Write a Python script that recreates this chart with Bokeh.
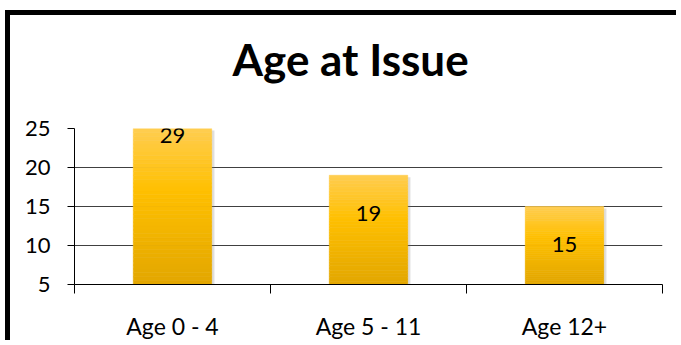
from bokeh.plotting import figure
from bokeh.models import FixedTicker, ColumnDataSource, Title
from bokeh.core.properties import value
from bokeh.embed import file_html
from bokeh.resources import INLINE

# Chart data
categories = ["Age 0 - 4", "Age 5 - 11", "Age 12+"]
counts = [29, 19, 15]
y_ticks = [5, 10, 15, 20, 25]
chart_title = "Age at Issue"

Y_MIN, Y_MAX = 5, 25
FONT = "Lato"
BAR_W = 0.4
N_SLICES = 40

xs = list(range(len(categories)))

p = figure(
    width=671, height=330,
    x_range=(-0.5, len(categories) - 0.5), y_range=(Y_MIN, Y_MAX),
    output_backend="svg", toolbar_location=None,
    min_border_left=64, min_border_right=19,
    min_border_top=113, min_border_bottom=61,
)
p.title_location = None
p.margin = (10, 0, 0, 5)
p.styles = {"border-left": "5px solid black", "border-top": "5px solid black"}
p.outline_line_color = None
p.background_fill_color = "white"
p.border_fill_color = "white"

# blank band between the title and the plot frame, then the title itself
p.add_layout(Title(text=" ", text_font_size="1px", standoff=41), "above")
p.add_layout(Title(
    text=chart_title, align="left", offset=158, standoff=0,
    text_font=FONT, text_font_size="44px", text_font_style="bold",
    text_color="black",
), "above")

# grid
p.xgrid.grid_line_color = None
p.ygrid.grid_line_color = "#404040"
p.ygrid.grid_line_width = 1
p.ygrid.ticker = FixedTicker(ticks=y_ticks)

# y axis
p.yaxis.ticker = FixedTicker(ticks=y_ticks)
p.yaxis.axis_line_color = "black"
p.yaxis.major_tick_in = 0
p.yaxis.major_tick_out = 7
p.yaxis.major_tick_line_color = "black"
p.yaxis.minor_tick_line_color = None
p.yaxis.major_label_text_font = FONT
p.yaxis.major_label_text_font_size = "22px"
p.yaxis.major_label_text_color = "black"
p.yaxis.major_label_standoff = 17

# x axis: labels at category centres, tick marks between categories
bounds = [i - 0.5 for i in range(len(categories) + 1)]
p.xaxis.ticker = FixedTicker(ticks=xs, minor_ticks=bounds)
p.xaxis.major_label_overrides = {i: c for i, c in enumerate(categories)}
p.xaxis.axis_line_color = "black"
p.xaxis.major_tick_line_color = None
p.xaxis.minor_tick_line_color = "black"
p.xaxis.minor_tick_in = 0
p.xaxis.minor_tick_out = 9
p.xaxis.major_label_text_font = FONT
p.xaxis.major_label_text_font_size = "23px"
p.xaxis.major_label_text_color = "black"
p.xaxis.major_label_standoff = 18


def lerp(c1, c2, t):
    return "#" + "".join(
        "%02x" % round(a + (b - a) * t) for a, b in zip(c1, c2)
    )


TOP = (255, 205, 80)
MID = (255, 192, 0)
BOT = (226, 166, 0)


def gold(f):
    # f = 0 at bar top, 1 at bar bottom
    if f < 0.4:
        return lerp(TOP, MID, f / 0.4)
    return lerp(MID, BOT, (f - 0.4) / 0.6)


# soft shadow to the right of each bar
shadow = ColumnDataSource(dict(
    x=[x + 0.014 for x in xs],
    top=[min(v, Y_MAX) - 0.25 for v in counts],
))
p.vbar(x="x", top="top", bottom=Y_MIN, width=BAR_W, source=shadow,
       fill_color="#808080", fill_alpha=0.25, line_color=None)

# bars as stacked slices carrying a vertical gradient
sx, sb, st, sc = [], [], [], []
for x, v in zip(xs, counts):
    top = min(v, Y_MAX)
    h = top - Y_MIN
    for k in range(N_SLICES):
        b = Y_MIN + h * k / N_SLICES
        t = Y_MIN + h * (k + 1) / N_SLICES
        sx.append(x)
        sb.append(b)
        st.append(t)
        sc.append(gold(1 - (k + 0.5) / N_SLICES))
slices = ColumnDataSource(dict(x=sx, bottom=sb, top=st, color=sc))
p.vbar(x="x", bottom="bottom", top="top", width=BAR_W, source=slices,
       fill_color="color", line_color="color", line_width=0.6)

# value labels inside the bar ends
labels = ColumnDataSource(dict(
    x=xs, y=[v - 4.9 for v in counts], text=[str(v) for v in counts]
))
p.text(x="x", y="y", text="text", source=labels,
       text_align="center", text_baseline="middle",
       text_font=value(FONT), text_font_size="22px", text_color="black")

open("out.html", "w").write(file_html(p, INLINE))
